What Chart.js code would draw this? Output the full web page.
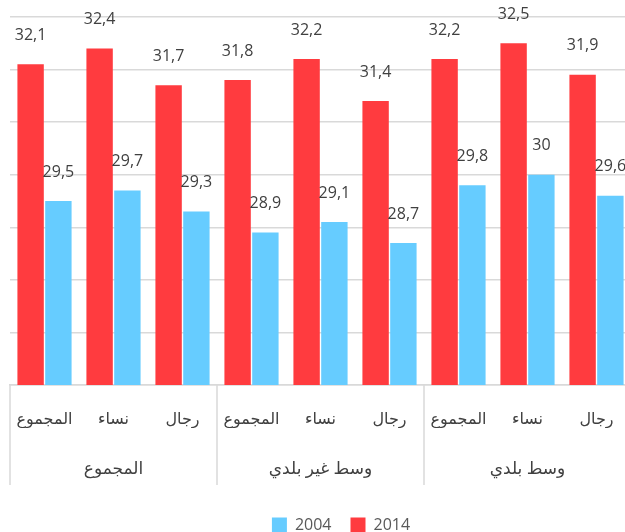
<!DOCTYPE html>
<html>
<head>
<meta charset="utf-8">
<script src="https://cdn.jsdelivr.net/npm/chart.js@4.4.1/dist/chart.umd.min.js"></script>
<style>
  html, body { margin: 0; padding: 0; background: #fff; overflow: hidden; }
  #wrap { position: relative; width: 682px; height: 532px; }
</style>
</head>
<body>
<div id="wrap"><canvas id="c"></canvas></div>
<script>
const subCategories = ['المجموع', 'نساء', 'رجال', 'المجموع', 'نساء', 'رجال', 'المجموع', 'نساء', 'رجال'];
const groups = ['المجموع', 'وسط غير بلدي', 'وسط بلدي'];
const series2014 = [32.1, 32.4, 31.7, 31.8, 32.2, 31.4, 32.2, 32.5, 31.9];
const series2004 = [29.5, 29.7, 29.3, 28.9, 29.1, 28.7, 29.8, 30, 29.6];
const yMin = 26, yMax = 33;

const FONT = "'Open Sans', 'DejaVu Sans', sans-serif";

const valueLabels = {
  id: 'valueLabels',
  afterDatasetsDraw(chart) {
    const ctx = chart.ctx;
    ctx.save();
    ctx.font = "16px " + FONT;
    ctx.fillStyle = '#404040';
    ctx.textAlign = 'center';
    ctx.textBaseline = 'middle';
    chart.data.datasets.forEach((ds, di) => {
      chart.getDatasetMeta(di).data.forEach((bar, i) => {
        const txt = String(ds.data[i]).replace('.', ',');
        ctx.fillText(txt, bar.x, bar.y - 29);
      });
    });
    ctx.restore();
  }
};

const groupSeparators = {
  id: 'groupSeparators',
  afterDraw(chart) {
    const x = chart.scales.x;
    const ctx = chart.ctx;
    const step = (x.getPixelForValue(1) - x.getPixelForValue(0));
    ctx.save();
    ctx.strokeStyle = '#d9d9d9';
    ctx.lineWidth = 1.5;
    for (let g = 0; g <= groups.length; g++) {
      const p = x.getPixelForValue(0) - step / 2 + g * 3 * step;
      ctx.beginPath();
      ctx.moveTo(p, x.top);
      ctx.lineTo(p, x.top + 100);
      ctx.stroke();
    }
    ctx.restore();
  }
};

function noSidePadding(scale) {
  scale.paddingLeft = 0;
  scale.paddingRight = 0;
}

new Chart(document.getElementById('c'), {
  type: 'bar',
  data: {
    labels: subCategories,
    datasets: [
      { label: '2014', data: series2014, backgroundColor: '#FF3B3F', borderWidth: 0,
        categoryPercentage: 0.805, barPercentage: 0.95 },
      { label: '2004', data: series2004, backgroundColor: '#66CCFF', borderWidth: 0,
        categoryPercentage: 0.805, barPercentage: 0.95 }
    ]
  },
  options: {
    responsive: true,
    maintainAspectRatio: false,
    animation: false,
    layout: { autoPadding: false, padding: { left: 10, right: 10, top: 17, bottom: -11 } },
    plugins: {
      legend: {
        position: 'bottom',
        reverse: true,
        labels: {
          boxWidth: 15, boxHeight: 15, padding: 19,
          color: '#595959',
          font: { family: FONT, size: 16 }
        }
      },
      tooltip: { enabled: false }
    },
    scales: {
      x: {
        grid: { display: false, drawTicks: false },
        border: { display: true, color: '#d9d9d9', width: 1.5 },
        ticks: { color: '#404040', font: { family: FONT, size: 16 }, padding: 25, maxRotation: 0, autoSkip: false },
        afterFit(scale) { scale.height = 43; noSidePadding(scale); }
      },
      x2: {
        type: 'category',
        labels: groups,
        position: 'bottom',
        grid: { display: false, drawTicks: false },
        border: { display: false },
        ticks: { color: '#404040', font: { family: FONT, size: 17 }, padding: 31, maxRotation: 0 },
        afterFit(scale) { scale.height = 70; noSidePadding(scale); }
      },
      y: {
        min: yMin, max: yMax,
        ticks: { display: false, stepSize: 1 },
        grid: { color: '#d9d9d9', lineWidth: 1.5, drawTicks: false },
        border: { display: false },
        afterFit(scale) { scale.width = 0; scale.paddingTop = 0; scale.paddingBottom = 0; }
      },
      yRight: {
        type: 'linear',
        position: 'right',
        min: yMin, max: yMax,
        ticks: { display: false },
        grid: { display: false, drawTicks: false },
        border: { display: false },
        afterFit(scale) { scale.width = 41; scale.paddingTop = 0; scale.paddingBottom = 0; }
      }
    }
  },
  plugins: [valueLabels, groupSeparators]
});
</script>
</body>
</html>
